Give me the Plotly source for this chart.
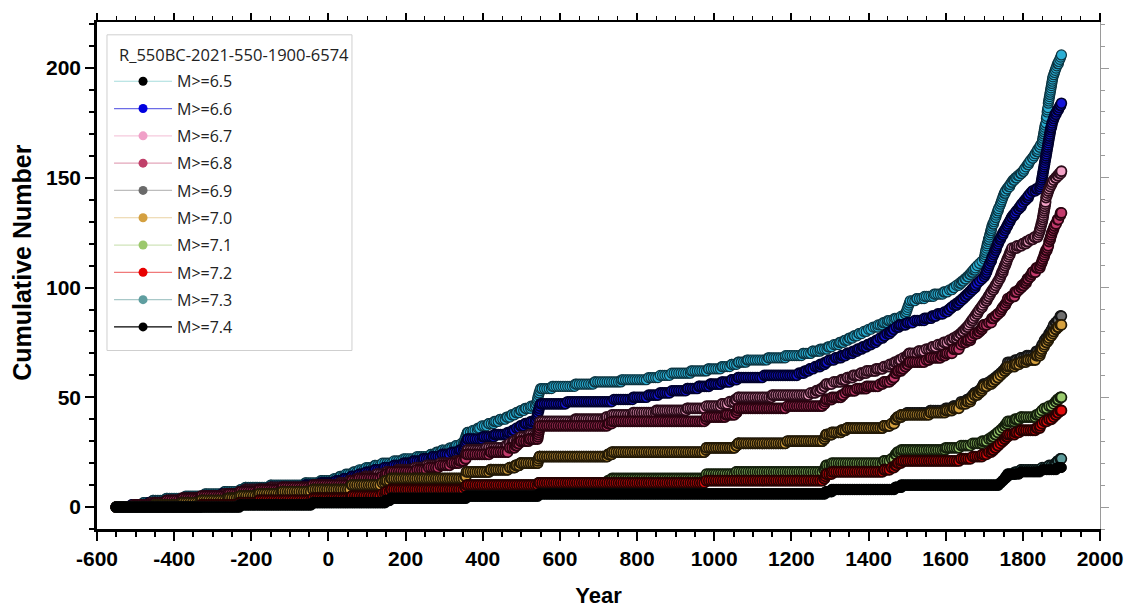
import numpy as np
import plotly.graph_objects as go

# ---------------- data (event years per magnitude threshold) ----------------
START_YEAR = -550
END_YEAR = 1900

LABELS = ["M>=6.5", "M>=6.6", "M>=6.7", "M>=6.8", "M>=6.9",
          "M>=7.0", "M>=7.1", "M>=7.2", "M>=7.3", "M>=7.4"]

EV_65 = [-505, -480, -455, -420, -370, -320, -270, -228, -215, -150, -60, -20,
         15, 30, 45, 65, 80, 98, 120, 140, 170, 195, 230, 265, 280, 295, 315, 330, 345,
         352, 354, 356, 358, 360, 375, 388, 398, 415, 430, 445, 462, 475, 487, 498,
         510, 525, 538, 541, 542, 543, 545, 546, 548, 550, 580, 640, 690, 760,
         830, 860, 890, 940, 985, 1020, 1045, 1062, 1085, 1140, 1185,
         1230, 1255, 1275, 1295, 1310, 1325, 1338, 1350, 1362, 1375, 1388, 1400,
         1412, 1425, 1438, 1450, 1468, 1485, 1495, 1498, 1500, 1502, 1504, 1506, 1508,
         1525, 1545, 1570, 1595, 1610, 1620, 1628, 1636, 1643, 1650,
         1656, 1662, 1667, 1672, 1677, 1682, 1688, 1694, 1700,
         1701, 1702, 1703, 1704, 1706, 1707, 1708, 1710,
         1711, 1713, 1714, 1716, 1717, 1719, 1720, 1722, 1725,
         1727, 1729, 1731, 1733, 1735, 1737, 1740, 1742, 1744, 1746, 1748, 1750, 1752, 1755,
         1759, 1763, 1767, 1771, 1775, 1781, 1787, 1794, 1800,
         1804, 1808, 1812, 1816, 1820, 1825, 1829, 1832, 1836, 1839, 1843, 1846, 1850,
         1851, 1852, 1853, 1854, 1855, 1856, 1857, 1858, 1860,
         1861, 1861, 1862, 1863, 1863, 1864, 1865, 1866, 1866, 1867, 1868, 1869, 1870,
         1871, 1872, 1873, 1874, 1875, 1876, 1877, 1878, 1880,
         1882, 1884, 1886, 1888, 1890, 1893, 1896, 1898, 1900]

EV_66 = [-510, -465, -415, -365, -320, -275, -228, -215, -150, -60, -20,
         20, 40, 60, 80, 98, 120, 145, 170, 195, 220, 245, 270, 295, 320, 340,
         352, 354, 356, 358, 360, 400, 430, 465, 478, 488, 498, 510, 525, 538,
         541, 542, 543, 545, 546, 548, 550, 620, 740, 790, 830, 860, 890, 930, 960, 990,
         1020, 1045, 1062, 1130, 1220, 1235, 1248, 1262, 1275, 1288, 1298,
         1315, 1330, 1345, 1360, 1372, 1385, 1398,
         1410, 1420, 1430, 1440, 1448, 1456, 1464, 1472, 1480, 1500, 1520, 1545,
         1565, 1580, 1598, 1608, 1615, 1622, 1630, 1637, 1644, 1650,
         1656, 1662, 1667, 1672, 1677, 1682, 1688, 1694, 1700,
         1703, 1705, 1707, 1710, 1712, 1714, 1717, 1719, 1721, 1724, 1726, 1728, 1731, 1733, 1735, 1737,
         1740, 1743, 1746, 1749, 1752, 1756, 1759, 1762, 1765, 1768, 1771, 1775,
         1780, 1784, 1789, 1793, 1797, 1802, 1806, 1811, 1815, 1820, 1825, 1835, 1845,
         1847, 1848, 1849, 1850, 1851, 1852, 1853, 1854, 1855, 1856, 1857, 1858, 1859, 1860,
         1861, 1862, 1863, 1864, 1865, 1866, 1867, 1868, 1869, 1870, 1871, 1872, 1873, 1875, 1876,
         1878, 1880, 1882, 1884, 1887, 1890, 1894, 1897, 1900]

EV_67 = [-505, -460, -410, -370, -320, -270, -225, -215, -150, -40,
         30, 55, 75, 95, 125, 150, 180, 225, 255, 290, 330,
         352, 354, 356, 358, 360, 410, 460, 470, 480, 490, 498, 520,
         542, 543, 545, 546, 547, 549, 640, 720, 735, 790, 850, 930, 980,
         1020, 1040, 1055, 1062, 1150, 1250, 1265, 1278, 1285, 1290,
         1310, 1330, 1345, 1360, 1380, 1395, 1420, 1440, 1455, 1468,
         1480, 1490, 1500, 1505, 1530, 1550, 1565, 1580, 1595,
         1610, 1620, 1630, 1638, 1644, 1650,
         1655, 1660, 1664, 1668, 1672, 1676, 1680, 1684, 1688, 1692, 1696, 1700,
         1704, 1708, 1711, 1715, 1718, 1722, 1726, 1729, 1733, 1736, 1740,
         1742, 1744, 1746, 1749, 1751, 1753, 1756, 1758, 1760, 1763, 1765, 1767, 1770, 1772,
         1785, 1800, 1810, 1820, 1830, 1840, 1842, 1844, 1845, 1847, 1848, 1850,
         1851, 1852, 1853, 1854, 1855, 1856, 1857, 1858, 1859, 1860, 1860,
         1862, 1864, 1866, 1868, 1871, 1874, 1876, 1880, 1885, 1890, 1895, 1900]

EV_68 = [-500, -450, -420, -380, -330, -260, -230, -180, -120, -40,
         60, 60, 80, 140, 148, 162, 230, 260, 290, 320,
         340, 355, 358, 358, 420, 470, 470, 485, 490, 498,
         520, 543, 544, 545, 546, 547, 548, 725, 735, 979,
         980, 1030, 1057, 1060, 1062, 1190, 1285, 1288, 1290, 1305,
         1330, 1340, 1345, 1370, 1395, 1430, 1440, 1460, 1465, 1470,
         1470, 1475, 1485, 1495, 1500, 1505, 1550, 1560, 1590, 1600,
         1620, 1620, 1640, 1640, 1645, 1655, 1665, 1670, 1675, 1685,
         1692, 1695, 1698, 1712, 1720, 1720, 1728, 1735, 1742, 1745,
         1748, 1753, 1757, 1760, 1761, 1770, 1780, 1780, 1790, 1795,
         1798, 1805, 1810, 1812, 1818, 1822, 1825, 1835, 1835, 1845,
         1848, 1850, 1852, 1855, 1856, 1858, 1860, 1864, 1866, 1868,
         1868, 1871, 1872, 1874, 1875, 1878, 1880, 1882, 1885, 1890,
         1890, 1897, 1897, 1898]

EV_69 = [-450, -380, -330, -260, -230, -180, -120, -40, 60, 60,
         140, 148, 162, 355, 358, 358, 420, 470, 485, 498,
         543, 545, 547, 725, 735, 979, 980, 1057, 1062, 1190,
         1285, 1288, 1290, 1305, 1330, 1345, 1440, 1460, 1470, 1470,
         1475, 1485, 1500, 1560, 1600, 1620, 1640, 1640, 1655, 1665,
         1670, 1675, 1685, 1692, 1695, 1698, 1712, 1720, 1728, 1735,
         1742, 1748, 1753, 1757, 1760, 1761, 1780, 1795, 1810, 1835,
         1835, 1845, 1848, 1850, 1855, 1856, 1860, 1866, 1868, 1872,
         1875, 1878, 1880, 1885, 1890, 1897, 1897]

EV_70 = [-450, -380, -330, -260, -230, -180, -120, -40, 60, 60,
         140, 148, 162, 355, 358, 358, 420, 470, 485, 498,
         543, 545, 547, 725, 735, 979, 980, 1057, 1062, 1190,
         1285, 1288, 1290, 1305, 1330, 1345, 1440, 1460, 1470, 1470,
         1475, 1485, 1560, 1600, 1620, 1640, 1640, 1655, 1665, 1670,
         1675, 1685, 1692, 1695, 1698, 1712, 1720, 1728, 1735, 1742,
         1748, 1753, 1757, 1761, 1780, 1795, 1810, 1835, 1835, 1845,
         1848, 1850, 1855, 1856, 1860, 1866, 1868, 1872, 1878, 1880,
         1885, 1890, 1897]

EV_71 = [-330, -230, -180, -40, 60, 140, 148, 162, 355, 358,
         545, 725, 735, 979, 980, 1057, 1285, 1288, 1290, 1305,
         1440, 1460, 1470, 1470, 1475, 1485, 1600, 1640, 1670, 1695,
         1712, 1720, 1728, 1735, 1742, 1748, 1753, 1757, 1761, 1780,
         1795, 1835, 1845, 1850, 1856, 1868, 1880, 1885, 1890, 1897]

EV_72 = [-330, -230, -180, -40, 60, 140, 148, 162, 355, 358,
         545, 980, 1285, 1288, 1290, 1305, 1440, 1460, 1470, 1475,
         1485, 1640, 1670, 1695, 1712, 1720, 1728, 1735, 1742, 1748,
         1753, 1757, 1761, 1780, 1795, 1835, 1845, 1850, 1856, 1868,
         1880, 1885, 1890, 1897]

EV_73 = [-230, -40, 148, 162, 358, 545, 1290, 1305, 1470, 1485,
         1742, 1748, 1753, 1757, 1761, 1780, 1795, 1850, 1868, 1885,
         1890, 1897]

EV_74 = [-230, -40, 148, 162, 358, 545, 1290, 1305, 1470, 1485,
         1742, 1748, 1753, 1757, 1761, 1795, 1850, 1890]

EVENTS = [EV_65, EV_66, EV_67, EV_68, EV_69, EV_70, EV_71, EV_72, EV_73, EV_74]

# tick labels
X_TICKS = [-600, -400, -200, 0, 200, 400, 600, 800, 1000, 1200, 1400, 1600, 1800, 2000]
X_TICK_TEXT = ["-600", "-400", "-200", "0", "200", "400", "600", "800", "1000",
               "1200", "1400", "1600", "1800", "2000"]
Y_TICKS = [0, 50, 100, 150, 200]
Y_TICK_TEXT = ["0", "50", "100", "150", "200"]

LEGEND_TITLE = "R_550BC-2021-550-1900-6574"
X_TITLE = "Year"
Y_TITLE = "Cumulative Number"

# ---------------- styles ----------------
FILL = ["#2aaed4", "#1515d8", "#f2a2c6", "#c33b6c", "#6e6e6e",
        "#d6a13e", "#9acb6e", "#e00c0c", "#5e9c9c", "#000000"]
EDGE = ["#0c3440", "#00002c", "#2c0c1a", "#2a0410", "#141414",
        "#241a06", "#141f0c", "#280202", "#0a1414", "#000000"]
EDGE_W = [1.2, 1.6, 1.8, 1.8, 1.6, 1.8, 1.8, 1.8, 1.6, 1.0]
LEG_MARK = ["#000000", "#0000e0", "#f0a0c8", "#c0406a", "#6a6a6a",
            "#d4a040", "#9cc86c", "#e80000", "#5f9ea0", "#000000"]
LEG_LINE = ["#a6dcdc", "#6c6ce6", "#f6cadd", "#e3a6ba", "#bdbdbd",
            "#ead2a2", "#d0e4ba", "#f07a7a", "#a8c8c8", "#000000"]

SAMPLE_STEP = 6  # sampling spacing of plotted points (years)

AX_FONT = "Liberation Sans, Arial, sans-serif"
LEG_FONT = "Open Sans, Noto Sans, sans-serif"

fig = go.Figure()

grid = np.arange(START_YEAR, END_YEAR + 1, SAMPLE_STEP)
for i, ev in enumerate(EVENTS):
    ev_sorted = np.sort(np.array(ev))
    xs = np.unique(np.concatenate([grid, ev_sorted, [END_YEAR]]))
    xs = xs[(xs >= START_YEAR) & (xs <= END_YEAR)]
    ys = np.searchsorted(ev_sorted, xs, side="right")
    fig.add_trace(go.Scatter(
        x=xs, y=ys, mode="markers",
        marker=dict(size=10, color=FILL[i], line=dict(color=EDGE[i], width=EDGE_W[i])),
        showlegend=False, hoverinfo="skip"))

# legend entries
for i, lab in enumerate(LABELS):
    fig.add_trace(go.Scatter(
        x=[None], y=[None], mode="lines+markers", name=lab, legendgroup=lab,
        marker=dict(size=9, color=LEG_MARK[i], line=dict(width=0)),
        line=dict(color=LEG_LINE[i], width=1.2)))

# dummy trace to activate mirrored top/right axes
fig.add_trace(go.Scatter(x=[None], y=[None], xaxis="x2", yaxis="y2",
                         showlegend=False, hoverinfo="skip"))

# legend frame and title
fig.add_shape(type="rect", xref="paper", yref="paper",
              x0=0.00997, x1=0.2542, y0=0.3521, y1=0.9747,
              line=dict(color="#cfcfcf", width=1), fillcolor="white", layer="above")
fig.add_annotation(xref="paper", yref="paper", x=0.0199, y=0.9357,
                   xanchor="left", yanchor="middle", showarrow=False,
                   text=LEGEND_TITLE,
                   font=dict(family=LEG_FONT, size=16.5, color="#222"))
# y-axis title
fig.add_annotation(xref="paper", yref="paper", x=-0.0748, y=0.525,
                   xanchor="center", yanchor="middle", showarrow=False, textangle=-90,
                   text=Y_TITLE,
                   font=dict(family=AX_FONT, size=25, color="black", weight="bold"))

fig.update_layout(
    width=1132, height=612, autosize=False,
    paper_bgcolor="white", plot_bgcolor="white",
    margin=dict(l=89, r=40, t=7, b=91),
    showlegend=True,
    legend=dict(
        x=0.012, y=0.9165, xanchor="left", yanchor="top",
        bgcolor="rgba(0,0,0,0)", borderwidth=0,
        font=dict(family=LEG_FONT, size=16, color="#222"),
        tracegroupgap=3.5, itemwidth=58),
    xaxis=dict(
        range=[-600, 2000], tickmode="array", tickvals=X_TICKS, ticktext=X_TICK_TEXT,
        showline=True, linecolor="black", linewidth=2.5, mirror=False,
        ticks="outside", ticklen=9, tickwidth=2, tickcolor="black",
        minor=dict(dtick=50, tick0=0, ticks="outside", ticklen=5, tickwidth=1.5, tickcolor="black"),
        showgrid=False, zeroline=False,
        tickfont=dict(family=AX_FONT, size=21, color="black", weight="bold"),
        title=dict(text=X_TITLE, font=dict(family=AX_FONT, size=22, color="black", weight="bold"), standoff=19)),
    yaxis=dict(
        range=[-10, 221], tickmode="array", tickvals=Y_TICKS, ticktext=Y_TICK_TEXT,
        showline=True, linecolor="black", linewidth=2.5, mirror=False,
        ticks="outside", ticklen=9, tickwidth=2, tickcolor="black",
        minor=dict(dtick=10, tick0=0, ticks="outside", ticklen=5, tickwidth=1.5, tickcolor="black"),
        showgrid=False, zeroline=False,
        tickfont=dict(family=AX_FONT, size=21, color="black", weight="bold")),
    xaxis2=dict(
        overlaying="x", side="top", range=[-600, 2000], tickmode="array", tickvals=X_TICKS,
        showticklabels=False, showline=True, linecolor="black", linewidth=2,
        ticks="outside", ticklen=7, tickwidth=1.5, tickcolor="black",
        minor=dict(dtick=50, tick0=0, ticks="outside", ticklen=4, tickwidth=1, tickcolor="black"),
        showgrid=False, zeroline=False),
    yaxis2=dict(
        overlaying="y", side="right", range=[-10, 221], tickmode="array", tickvals=Y_TICKS,
        showticklabels=False, showline=True, linecolor="#9a9a9a", linewidth=1.2,
        ticks="outside", ticklen=8, tickwidth=1.2, tickcolor="#9a9a9a",
        minor=dict(dtick=10, tick0=0, ticks="outside", ticklen=4, tickwidth=1, tickcolor="#9a9a9a"),
        showgrid=False, zeroline=False),
)

fig.write_html("out.html")
